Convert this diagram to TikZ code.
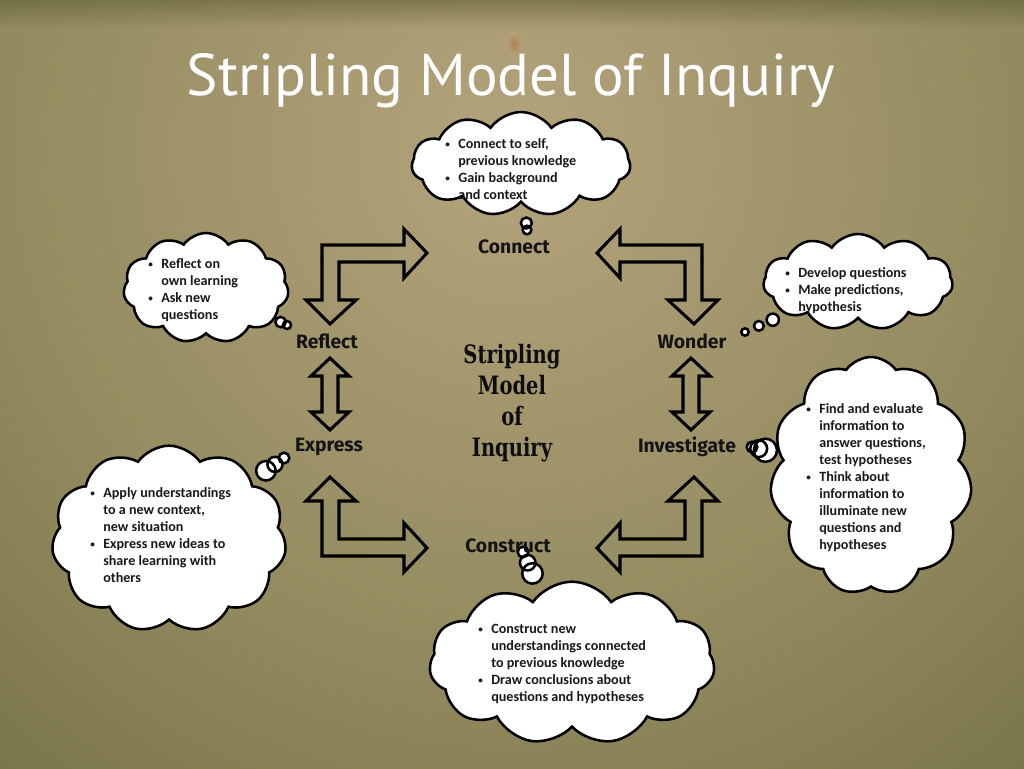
\documentclass[tikz,border=0pt]{standalone}
\usepackage{fontspec}
\usepackage{graphicx}
\setmainfont{Carlito}
\newfontfamily\titlefont{PT Sans}
\newfontfamily\lblfont{Fira Sans}
\newfontfamily\ctrfont{DejaVu Serif}
\usetikzlibrary{shapes.callouts,shapes.symbols}
\definecolor{bgin}{HTML}{B4A37C}
\definecolor{bgmid}{HTML}{928A5E}
\definecolor{bgout}{HTML}{676538}
\definecolor{bgtop}{HTML}{5E5C34}
\definecolor{lamp}{HTML}{B27A48}
\pgfdeclareradialshading{bgshade}{\pgfpoint{0bp}{0bp}}{color(0bp)=(bgin); color(13bp)=(bgmid); color(26bp)=(bgout); color(50bp)=(bgout)}
\newcommand{\sbul}{\makebox[9.75pt][l]{\raisebox{0.12ex}{\scalebox{0.65}{\textbullet}}}}
\tikzset{
  blockarrow/.style={draw=black, line width=2.3pt, line join=miter},
  steplabel/.style={font=\lblfont\bfseries\fontsize{14.5}{16}\selectfont, text=black!92, inner sep=0pt},
  thought/.style={cloud callout, draw=black, fill=white, line width=1.9pt, cloud puffs=11, cloud puff arc=110, cloud ignores aspect, inner sep=0pt},
  cloudtext/.style={anchor=north west, inner sep=0pt, font=\fontsize{10.6}{12.75}\selectfont\bfseries, align=left, text=black!90}
}
\begin{document}
\begin{tikzpicture}[x=0.75pt,y=-0.75pt]
\useasboundingbox (0,0) rectangle (1024,768);
% background
\begin{scope}
\clip (0,0) rectangle (1024,768);
\fill[bgout] (0,0) rectangle (1024,768);
\shade[shading=bgshade] (512,150) circle [radius=1000];
\foreach \i in {0,...,27} {
  \pgfmathsetmacro{\op}{0.55*(1-\i/28)}
  \fill[bgtop, opacity=\op] (0,\i) rectangle (1024,\i+1.05);
}
\shade[inner color=lamp, outer color=bgin, opacity=0.8] (514,44) ellipse [x radius=8, y radius=12];
\end{scope}
% title
\node[text=white, inner sep=0pt, anchor=base] (title) at (511,95) {\resizebox{486pt}{31.5pt}{\titlefont Stripling Model of Inquiry}};
% block arrows
\draw[blockarrow] (330,324) -- (356,300) -- (339,300) -- (339,262) -- (404,262) -- (404,278) -- (427,253) -- (404,229) -- (404,245) -- (322,245) -- (322,300) -- (306,300) -- cycle;
\draw[blockarrow] (694,324) -- (668,300) -- (685,300) -- (685,262) -- (620,262) -- (620,278) -- (597,253) -- (620,229) -- (620,245) -- (702,245) -- (702,300) -- (718,300) -- cycle;
\draw[blockarrow] (330,477) -- (356,501) -- (339,501) -- (339,539) -- (404,539) -- (404,523) -- (427,548) -- (404,572) -- (404,556) -- (322,556) -- (322,501) -- (306,501) -- cycle;
\draw[blockarrow] (694,477) -- (668,501) -- (685,501) -- (685,539) -- (620,539) -- (620,523) -- (597,548) -- (620,572) -- (620,556) -- (702,556) -- (702,501) -- (718,501) -- cycle;
\draw[blockarrow] (330,358) -- (349,376) -- (338,376) -- (338,412) -- (349,412) -- (330,430) -- (311,412) -- (322,412) -- (322,376) -- (311,376) -- cycle;
\draw[blockarrow] (691,358) -- (710,376) -- (699,376) -- (699,412) -- (710,412) -- (691,430) -- (672,412) -- (683,412) -- (683,376) -- (672,376) -- cycle;
% clouds
\node[thought, minimum width=164pt, minimum height=78pt, callout absolute pointer={(527,230)}, callout pointer start size=10pt, callout pointer end size=6.5pt, callout pointer segments=2] (cConnect) at (521,164) {};
\node[thought, minimum width=124pt, minimum height=82.5pt, callout absolute pointer={(287,325)}, callout pointer start size=9.5pt, callout pointer end size=6pt, callout pointer segments=2] (cReflect) at (206,288) {};
\node[thought, minimum width=142pt, minimum height=72pt, callout absolute pointer={(745,332)}, callout pointer start size=11pt, callout pointer end size=5.5pt, callout pointer segments=3] (cWonder) at (858,282) {};
\node[thought, minimum width=151.5pt, minimum height=178.5pt, callout absolute pointer={(752,447)}, callout pointer start size=22pt, callout pointer end size=8pt, callout pointer segments=3] (cInvestigate) at (871,476) {};
\node[thought, minimum width=176pt, minimum height=140pt, callout absolute pointer={(284,458)}, callout pointer start size=18pt, callout pointer end size=8pt, callout pointer segments=3] (cExpress) at (169,539) {};
\node[thought, minimum width=214pt, minimum height=122pt, callout absolute pointer={(523,552)}, callout pointer start size=19pt, callout pointer end size=8pt, callout pointer segments=3] (cConstruct) at (572,663) {};
% cloud texts
\node[cloudtext] (tConnect) at (445,136.5) {\begin{tabular}{@{}l@{}l@{}}\sbul & Connect to self,\\ & previous knowledge\\ \sbul & Gain background\\ & and context\end{tabular}};
\node[cloudtext] (tReflect) at (148,256.5) {\begin{tabular}{@{}l@{}l@{}}\sbul & Reflect on\\ & own learning\\ \sbul & Ask new\\ & questions\end{tabular}};
\node[cloudtext] (tWonder) at (785,265.5) {\begin{tabular}{@{}l@{}l@{}}\sbul & Develop questions\\ \sbul & Make predictions,\\ & hypothesis\end{tabular}};
\node[cloudtext] (tInvestigate) at (806,401.5) {\begin{tabular}{@{}l@{}l@{}}\sbul & Find and evaluate\\ & information to\\ & answer questions,\\ & test hypotheses\\ \sbul & Think about\\ & information to\\ & illuminate new\\ & questions and\\ & hypotheses\end{tabular}};
\node[cloudtext] (tExpress) at (90,485.5) {\begin{tabular}{@{}l@{}l@{}}\sbul & Apply understandings\\ & to a new context,\\ & new situation\\ \sbul & Express new ideas to\\ & share learning with\\ & others\end{tabular}};
\node[cloudtext] (tConstruct) at (478,621.5) {\begin{tabular}{@{}l@{}l@{}}\sbul & Construct new\\ & understandings connected\\ & to previous knowledge\\ \sbul & Draw conclusions about\\ & questions and hypotheses\end{tabular}};
% step labels
\node[steplabel] (connect) at (514,247) {Connect};
\node[steplabel] (reflect) at (327,341) {Reflect};
\node[steplabel] (wonder) at (692,341) {Wonder};
\node[steplabel] (express) at (329,447) {Express};
\node[steplabel] (investigate) at (687,447) {Investigate};
\node[steplabel] (construct) at (508,546) {Construct};
% center
\node[font=\ctrfont\bfseries\fontsize{19}{23.25}\selectfont, align=center, text=black!95, inner sep=0pt] (center) at (512,403) {\scalebox{0.77}[1]{Stripling}\\\scalebox{0.77}[1]{Model}\\\scalebox{0.77}[1]{of}\\\scalebox{0.77}[1]{Inquiry}};
\end{tikzpicture}
\end{document}
